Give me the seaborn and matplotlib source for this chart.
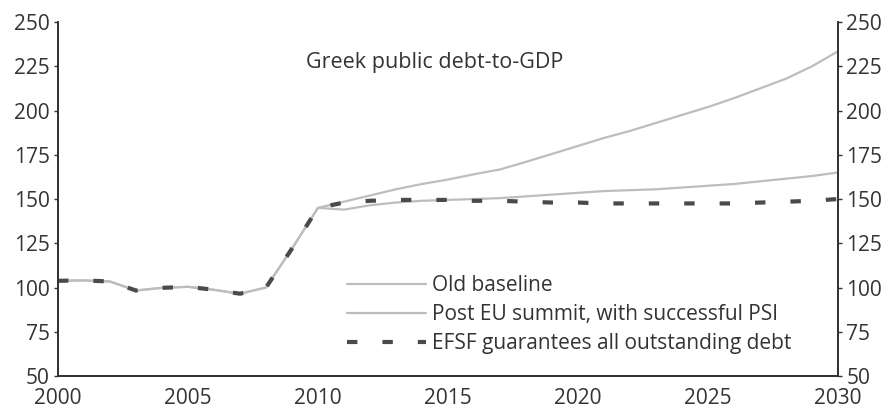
import pandas as pd
import numpy as np
import matplotlib.pyplot as plt
import seaborn as sns

years = list(range(2000, 2031))

history = [103.8, 104.0, 103.4, 98.3, 99.8, 100.4, 98.7, 96.5, 100.0, 122.0, 145.0]

old_baseline = history + [148.5, 152.0, 155.5, 158.5, 161.0, 164.0, 166.7, 171.0, 175.5, 180.0,
                          184.5, 188.5, 193.0, 197.5, 202.0, 207.0, 212.5, 218.0, 225.0, 233.5]
post_eu = history + [144.0, 146.5, 148.0, 149.0, 149.5, 150.0, 150.5, 151.5, 152.5, 153.5,
                     154.5, 155.0, 155.5, 156.5, 157.5, 158.5, 160.0, 161.5, 163.0, 165.0]
efsf = history + [148.0, 149.0, 149.5, 149.5, 149.5, 149.0, 149.0, 148.5, 148.0, 148.0,
                  147.5, 147.5, 147.5, 147.5, 147.5, 147.5, 148.0, 148.5, 149.0, 150.0]

labels = ['Old baseline', 'Post EU summit, with successful PSI', 'EFSF guarantees all outstanding debt']

df = pd.concat([
    pd.DataFrame({'year': years, 'debt': old_baseline, 'scenario': labels[0]}),
    pd.DataFrame({'year': years, 'debt': post_eu, 'scenario': labels[1]}),
    pd.DataFrame({'year': years, 'debt': efsf, 'scenario': labels[2]}),
])

sns.set_style('white')
plt.rcParams['font.family'] = ['Open Sans', 'DejaVu Sans']
ink = '#333333'
fs = 15

fig = plt.figure(figsize=(8.92, 4.13), dpi=100)
ax = fig.add_axes([0.065, 0.0896, 0.8745, 0.857])

palette = {labels[0]: '#bdbdbd', labels[1]: '#bdbdbd', labels[2]: '#4a4a4a'}
dashes = {labels[0]: '', labels[1]: '', labels[2]: (2.5, 6)}
sns.lineplot(data=df, x='year', y='debt', hue='scenario', style='scenario',
             palette=palette, dashes=dashes, hue_order=labels, style_order=labels, ax=ax)

for line in ax.lines:
    if line.get_linestyle() == '--':
        line.set_linewidth(3.0)
    else:
        line.set_linewidth(1.6)

ax.set_xlim(2000, 2030)
ax.set_ylim(50, 250)
ax.set_xticks(range(2000, 2031, 5))
ax.set_yticks(range(50, 251, 25))
ax.set_xlabel('')
ax.set_ylabel('')

ax2 = ax.twinx()
ax2.set_ylim(50, 250)
ax2.set_yticks(range(50, 251, 25))

for a in (ax, ax2):
    a.spines['top'].set_visible(False)
    for side in ['left', 'right', 'bottom']:
        a.spines[side].set_color(ink)
        a.spines[side].set_linewidth(1.3)
    a.tick_params(colors=ink, labelsize=fs, length=3, width=1)
ax.tick_params(axis='x', pad=7, length=2)
ax.tick_params(axis='y', pad=3)
ax2.tick_params(axis='y', pad=3)

handles, _ = ax.get_legend_handles_labels()
for h in handles:
    if h.get_linestyle() == '--':
        h.set_linewidth(3.0)
    else:
        h.set_linewidth(1.6)
leg = ax.legend(handles=handles, labels=labels, loc='upper left', bbox_to_anchor=(0.37, 0.285),
                frameon=False, fontsize=fs, handlelength=3.8, handletextpad=0.3,
                labelspacing=0.38, borderpad=0, borderaxespad=0)
for t in leg.get_texts():
    t.set_color(ink)

ax.text(0.483, 0.887, 'Greek public debt-to-GDP', transform=ax.transAxes,
        ha='center', va='center', fontsize=15.5, color=ink)

fig.savefig('out.png', dpi=100)
